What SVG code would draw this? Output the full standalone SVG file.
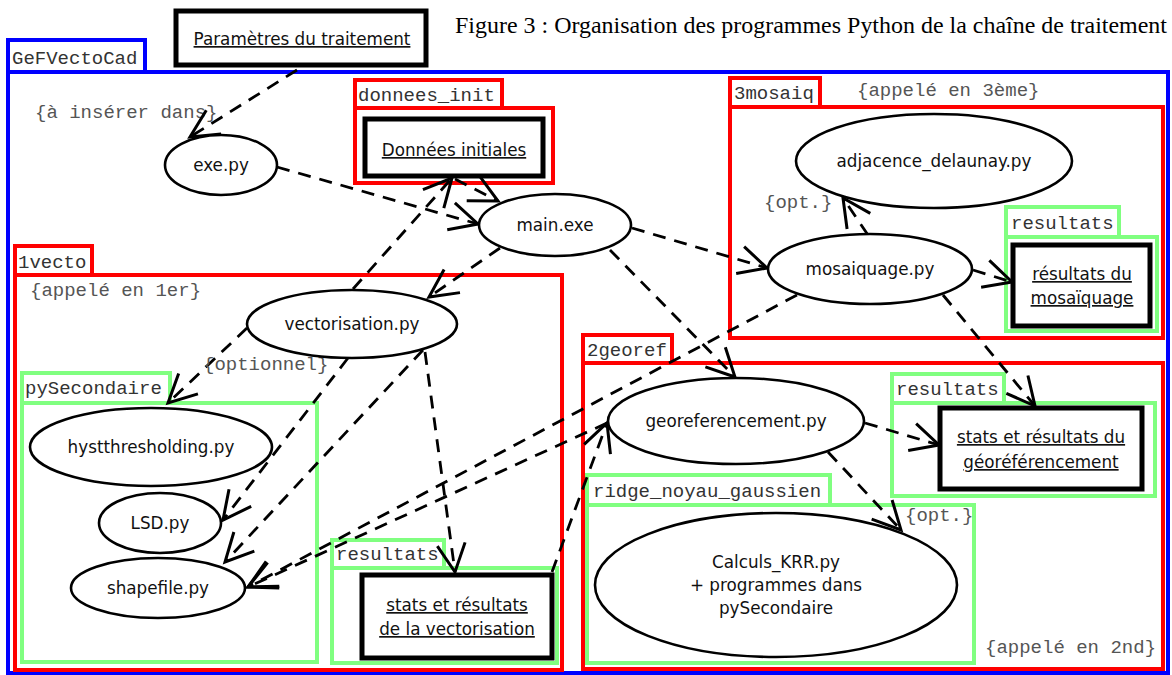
<svg xmlns="http://www.w3.org/2000/svg" width="1172" height="675" viewBox="0 0 1172 675">
<style>
.bg{fill:#fff}
.blue{fill:#fff;stroke:#0000ff;stroke-width:4}
.red{fill:none;stroke:#ff0000;stroke-width:4}
.redt{fill:#fff;stroke:#ff0000;stroke-width:4}
.grn{fill:none;stroke:#80ff80;stroke-width:4}
.grnt{fill:#fff;stroke:#80ff80;stroke-width:4}
.box{fill:#fff;stroke:#000;stroke-width:5}
.ell{fill:#fff;stroke:#000;stroke-width:2.6}
.n{font-family:"DejaVu Sans",sans-serif;font-size:16.8px;text-anchor:middle;fill:#111}
.u{text-decoration:underline}
.m{font-family:"Liberation Mono",monospace;font-size:19px;fill:#333}
.a{font-family:"Liberation Mono",monospace;font-size:19px;fill:#555}
.t{font-family:"Liberation Serif",serif;font-size:23.5px;fill:#000}
.c{fill:none;stroke:#000;stroke-width:2.8;stroke-dasharray:13 9;marker-end:url(#ah)}
.ah{fill:none;stroke:#000;stroke-width:3;stroke-dasharray:none}
</style>
<defs>
<marker id="ah" markerUnits="userSpaceOnUse" markerWidth="40" markerHeight="40" refX="0" refY="0" orient="auto" overflow="visible">
<path class="ah" d="M-28,-14 L0,0 L-28,14"/>
</marker>
</defs>
<rect class="bg" x="0" y="0" width="1172" height="675"/>
<text class="t" x="455" y="33" textLength="712" lengthAdjust="spacingAndGlyphs">Figure 3 : Organisation des programmes Python de la chaîne de traitement</text>

<g id="GeFVectoCad">
<rect class="blue" x="8" y="40" width="137" height="32"/>
<rect class="blue" x="8" y="72" width="1160" height="601"/>
<text class="m" x="12" y="64">GeFVectoCad</text>
<text class="a" x="35" y="118">{à insérer dans}</text>
</g>

<g id="donnees_init">
<rect class="redt" x="355" y="80" width="147" height="28"/>
<rect class="red" x="355" y="108" width="198" height="75"/>
<text class="m" x="358" y="101">donnees_init</text>
</g>

<g id="3mosaiq">
<rect class="redt" x="730" y="78" width="90" height="29"/>
<rect class="red" x="730" y="107" width="433" height="231"/>
<text class="m" x="734" y="99">3mosaiq</text>
<text class="a" x="857" y="96">{appelé en 3ème}</text>
</g>

<g id="resultats_mosaiq">
<rect class="grnt" x="1006" y="207" width="113" height="30"/>
<rect class="grn" x="1006" y="237" width="151" height="94"/>
<text class="m" x="1011" y="229">resultats</text>
</g>

<g id="1vecto">
<rect class="redt" x="15" y="246" width="77" height="29"/>
<rect class="red" x="15" y="275" width="547" height="395"/>
<text class="m" x="18" y="268">1vecto</text>
<text class="a" x="30" y="296">{appelé en 1er}</text>
</g>

<g id="pySecondaire">
<rect class="grnt" x="22" y="373" width="148" height="30"/>
<rect class="grn" x="22" y="403" width="295" height="259"/>
<text class="m" x="25" y="394">pySecondaire</text>
</g>

<g id="resultats_vecto">
<rect class="grnt" x="332" y="540" width="112" height="28"/>
<rect class="grn" x="332" y="568" width="225" height="95"/>
<text class="m" x="336" y="560">resultats</text>
</g>

<g id="2georef">
<rect class="redt" x="583" y="335" width="89" height="28"/>
<rect class="red" x="583" y="363" width="580" height="306"/>
<text class="m" x="587" y="356">2georef</text>
<text class="a" x="985" y="653">{appelé en 2nd}</text>
</g>

<g id="resultats_georef">
<rect class="grnt" x="892" y="374" width="112" height="29"/>
<rect class="grn" x="892" y="403" width="263" height="93"/>
<text class="m" x="896" y="395">resultats</text>
</g>

<g id="ridge_noyau_gaussien">
<rect class="grnt" x="587" y="475" width="243" height="30"/>
<rect class="grn" x="587" y="505" width="387" height="158"/>
<text class="m" x="593" y="497">ridge_noyau_gaussien</text>
</g>

<g id="connectors">
<path class="c" d="M297,70 L190,137"/>
<path class="c" d="M277,167 L478,224"/>
<path class="c" d="M455,179 L498,201"/>
<path class="c" d="M353,289 L452,178"/>
<path class="c" d="M500,248 L429,297"/>
<path class="c" d="M632,228 L767,268"/>
<path class="c" d="M610,250 L735,377"/>
<path class="c" d="M868,235 L843,198"/>
<path class="c" d="M973,270 L1012,282"/>
<path class="c" d="M943,295 L1035,406"/>
<path class="c" d="M865,423 L939,445"/>
<path class="c" d="M828,452 L901,530"/>
<path class="c" d="M247,328 L168,403"/>
<path class="c" d="M348,358 L223,520"/>
<path class="c" d="M423,350 L225,562"/>
<path class="c" d="M425,352 L455,572"/>
<path class="c" d="M797,295 L248,587"/>
<path class="c" d="M607,423 L248,587"/>
<path class="c" d="M552,572 L607,423"/>
<text class="a" x="203" y="370">{optionnel}</text>
<text class="a" x="764" y="208">{opt.}</text>
<text class="a" x="905" y="521">{opt.}</text>
</g>

<g id="parametres">
<rect class="box" x="176" y="11" width="250" height="54"/>
<text class="n u" x="302" y="45">Paramètres du traitement</text>
</g>
<g id="donnees_initiales">
<rect class="box" x="365" y="119" width="178" height="57"/>
<text class="n u" x="454" y="156">Données initiales</text>
</g>
<g id="exe">
<ellipse class="ell" cx="221" cy="165" rx="56" ry="30"/>
<text class="n" x="221" y="171">exe.py</text>
</g>
<g id="main">
<ellipse class="ell" cx="555" cy="225" rx="76" ry="31"/>
<text class="n" x="555" y="231">main.exe</text>
</g>
<g id="vectorisation">
<ellipse class="ell" cx="352" cy="324" rx="105" ry="34"/>
<text class="n" x="352" y="330">vectorisation.py</text>
</g>
<g id="hystthresholding">
<ellipse class="ell" cx="151" cy="447" rx="121" ry="39"/>
<text class="n" x="151" y="453">hystthresholding.py</text>
</g>
<g id="lsd">
<ellipse class="ell" cx="160" cy="523" rx="61" ry="30"/>
<text class="n" x="160" y="529">LSD.py</text>
</g>
<g id="shapefile">
<ellipse class="ell" cx="158" cy="588" rx="87" ry="30"/>
<text class="n" x="158" y="594">shapefile.py</text>
</g>
<g id="stats_vecto">
<rect class="box" x="362" y="575" width="190" height="83"/>
<text class="n u" x="457" y="611">stats et résultats</text>
<text class="n u" x="457" y="635">de la vectorisation</text>
</g>
<g id="adjacence">
<ellipse class="ell" cx="934" cy="161" rx="138" ry="47"/>
<text class="n" x="934" y="167">adjacence_delaunay.py</text>
</g>
<g id="mosaiquage">
<ellipse class="ell" cx="870" cy="269" rx="102" ry="35"/>
<text class="n" x="870" y="275">mosaiquage.py</text>
</g>
<g id="resultats_mosaiquage">
<rect class="box" x="1013" y="245" width="137" height="81"/>
<text class="n u" x="1082" y="280">résultats du</text>
<text class="n u" x="1082" y="304">mosaïquage</text>
</g>
<g id="georeferencement">
<ellipse class="ell" cx="736" cy="421" rx="128" ry="43"/>
<text class="n" x="736" y="427">georeferencement.py</text>
</g>
<g id="stats_georef">
<rect class="box" x="940" y="408" width="202" height="81"/>
<text class="n u" x="1041" y="443">stats et résultats du</text>
<text class="n u" x="1041" y="468">géoréférencement</text>
</g>
<g id="calculs_krr">
<ellipse class="ell" cx="776" cy="585" rx="181" ry="72"/>
<text class="n" x="776" y="568">Calculs_KRR.py</text>
<text class="n" x="776" y="591">+ programmes dans</text>
<text class="n" x="776" y="614">pySecondaire</text>
</g>
</svg>
